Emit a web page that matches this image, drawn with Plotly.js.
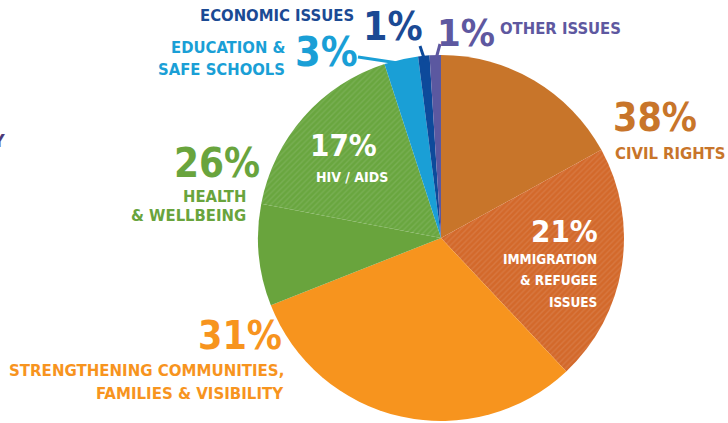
<!DOCTYPE html>
<html>
<head>
<meta charset="utf-8">
<script src="https://cdn.plot.ly/plotly-3.0.1.min.js"></script>
<style>
  html, body { margin: 0; padding: 0; background: #fff; }
  #chart { width: 728px; height: 423px; }
</style>
</head>
<body>
<div id="chart"></div>
<script>
// slices, clockwise from 12 o'clock
const sliceNames = ["Civil rights (other)", "Immigration & refugee issues", "Strengthening communities, families & visibility",
  "Health & wellbeing (other)", "HIV / AIDS", "Education & safe schools", "Economic issues", "Other issues"];
const sliceValues = [17, 21, 31, 9, 17, 3, 1, 1];
const sliceColors = ["#C8752A", "#D3692B", "#F7941E", "#69A43D", "#69A63F", "#1A9FD6", "#0D4A9B", "#5B58A0"];
const slicePattern = ["", "/", "", "", "/", "", "", ""];

// group totals shown in the labels
const civilRights = 38;
const health = 26;

const W = 728, H = 423;
const px = x => x / W;
const py = y => 1 - y / H;

const numFont = "DejaVu Sans Condensed, DejaVu Sans, sans-serif";
const txtFont = "DejaVu Sans Condensed, DejaVu Sans, sans-serif";

function label(text, x, y, size, color, anchor, family) {
  return {
    text: text, x: px(x), y: py(y), xref: "paper", yref: "paper",
    xanchor: anchor || "center", yanchor: "middle", showarrow: false,
    font: { family: family || txtFont, size: size, color: color, weight: "bold" },
  };
}
const pct = v => v + "%";

const cEcon = "#1B4A94", cOther = "#5E58A0", cEdu = "#1A9FD6", cCivil = "#C8752A",
  cGreen = "#69A43D", cOrange = "#F7941E";

const annotations = [
  label("ECONOMIC ISSUES", 356, 15, 16.5, cEcon, "right"),
  label(pct(sliceValues[6]), 393, 27, 39, cEcon, "center", numFont),
  label(pct(sliceValues[7]), 466, 33, 38, cOther, "center", numFont),
  label("OTHER ISSUES", 498, 29, 16.5, cOther, "left"),
  label("EDUCATION &", 287, 47, 16.5, cEdu, "right"),
  label("SAFE SCHOOLS", 287, 69, 16.5, cEdu, "right"),
  label(pct(sliceValues[5]), 326, 52, 41, cEdu, "center", numFont),
  label(pct(civilRights), 655, 117, 39, cCivil, "center", numFont),
  label("CIVIL RIGHTS", 613, 153, 16.5, cCivil, "left"),
  label(pct(sliceValues[1]), 600, 231, 31, "#fff", "right", numFont),
  label("IMMIGRATION", 599, 259, 13.5, "#fff", "right"),
  label("& REFUGEE", 599, 280, 13.5, "#fff", "right"),
  label("ISSUES", 599, 302, 13.5, "#fff", "right"),
  label(pct(health), 217, 163, 40, cGreen, "center", numFont),
  label("HEALTH", 248, 196, 16.5, cGreen, "right"),
  label("& WELLBEING", 248, 216, 16.5, cGreen, "right"),
  label(pct(sliceValues[4]), 343, 145, 31, "#fff", "center", numFont),
  label("HIV / AIDS", 352, 177, 14, "#fff", "center"),
  label(pct(sliceValues[2]), 240, 335, 39, cOrange, "center", numFont),
  label("STRENGTHENING COMMUNITIES,", 286, 370, 16.7, cOrange, "right"),
  label("FAMILIES & VISIBILITY", 286, 393, 16.7, cOrange, "right"),
  label("Y", 7, 140, 18, "#4B3A7A", "right"),
];

function leader(x0, y0, x1, y1, color) {
  return {
    type: "line", xref: "paper", yref: "paper",
    x0: px(x0), y0: py(y0), x1: px(x1), y1: py(y1),
    line: { color: color, width: 3 },
  };
}

const shapes = [
  leader(358, 57, 398, 63, cEdu),
  leader(420, 46, 425, 61, "#0D4A9B"),
  leader(440, 44, 436, 59, cOther),
];

const trace = {
  type: "pie",
  labels: sliceNames,
  values: sliceValues,
  sort: false,
  direction: "clockwise",
  rotation: 0,
  textinfo: "none",
  hoverinfo: "none",
  marker: {
    colors: sliceColors,
    line: { width: 0 },
    pattern: {
      shape: slicePattern,
      bgcolor: sliceColors,
      fgcolor: "#ffffff",
      fgopacity: 0.1,
      size: 4,
      solidity: 0.35,
    },
  },
  domain: { x: [px(258), px(624)], y: [py(421), py(55)] },
};

const layout = {
  width: W,
  height: H,
  margin: { l: 0, r: 0, t: 0, b: 0 },
  paper_bgcolor: "#fff",
  showlegend: false,
  annotations: annotations,
  shapes: shapes,
};

Plotly.newPlot("chart", [trace], layout, { staticPlot: true });
</script>
</body>
</html>
